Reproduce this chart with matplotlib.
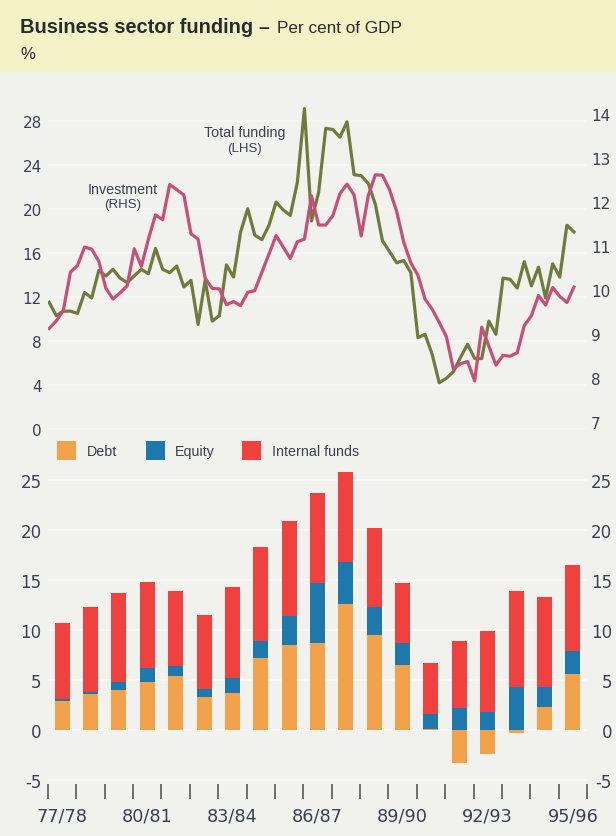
import numpy as np
import matplotlib.pyplot as plt
from matplotlib.patches import Rectangle

plt.rcParams['axes.unicode_minus'] = False

# financial years for the bar panel
years = ['77/78', '78/79', '79/80', '80/81', '81/82', '82/83', '83/84', '84/85',
         '85/86', '86/87', '87/88', '88/89', '89/90', '90/91', '91/92', '92/93',
         '93/94', '94/95', '95/96']
debt = [2.9, 3.6, 4.0, 4.8, 5.4, 3.3, 3.7, 7.2, 8.5, 8.7, 12.6, 9.5, 6.5, 0.1,
        -3.3, -2.4, -0.3, 2.3, 5.6]
equity = [0.2, 0.2, 0.8, 1.4, 1.0, 0.8, 1.5, 1.7, 2.9, 6.0, 4.2, 2.8, 2.2, 1.5,
          2.2, 1.8, 4.3, 2.0, 2.3]
internal = [7.6, 8.5, 8.9, 8.6, 7.5, 7.4, 9.1, 9.4, 9.5, 9.0, 9.0, 7.9, 6.0, 5.1,
            6.7, 8.1, 9.6, 9.0, 8.6]

# quarterly series, Sep 1977 onwards
total_funding = [11.5, 10.3, 10.7, 10.7, 10.5, 12.4, 11.9, 14.4, 13.9, 14.5,
                 13.7, 13.3, 13.9, 14.5, 14.1, 16.4, 14.5, 14.2, 14.8, 12.9,
                 13.5, 9.5, 13.5, 9.8, 10.3, 14.9, 13.8, 17.9, 20.0, 17.6,
                 17.2, 18.5, 20.6, 19.9, 19.4, 22.4, 29.1, 18.9, 21.5, 27.3,
                 27.2, 26.5, 27.9, 23.1, 23.0, 22.3, 20.4, 17.1, 16.1, 15.1,
                 15.3, 14.2, 8.3, 8.6, 6.8, 4.2, 4.6, 5.2, 6.5, 7.7,
                 6.4, 6.4, 9.8, 8.6, 13.7, 13.6, 12.8, 15.2, 13.0, 14.7,
                 11.9, 15.0, 13.8, 18.5, 17.9]
investment = [9.13, 9.30, 9.54, 10.41, 10.56, 10.98, 10.93, 10.66, 10.04, 9.80,
              9.94, 10.10, 10.94, 10.54, 11.16, 11.71, 11.60, 12.40, 12.28, 12.16,
              11.28, 11.16, 10.27, 10.04, 10.03, 9.67, 9.74, 9.65, 9.95, 9.99,
              10.41, 10.82, 11.24, 10.98, 10.72, 11.10, 11.16, 12.14, 11.48, 11.48,
              11.69, 12.19, 12.41, 12.16, 11.23, 12.15, 12.62, 12.61, 12.28, 11.79,
              11.09, 10.62, 10.34, 9.80, 9.57, 9.27, 8.95, 8.21, 8.33, 8.38,
              7.94, 9.16, 8.73, 8.30, 8.52, 8.50, 8.58, 9.20, 9.42, 9.88,
              9.66, 10.06, 9.86, 9.72, 10.07]

c_debt = '#f2a24a'
c_equity = '#1d78ad'
c_internal = '#f1413f'
c_total = '#6f7a3b'
c_invest = '#c64f78'
c_text = '#3b4052'
sans = 'Liberation Sans'

W, H = 616, 837
fig = plt.figure(figsize=(W / 100, H / 100), dpi=100)
fig.patch.set_facecolor('#f1f1ee')
fig.add_artist(Rectangle((0, 1 - 73 / H), 1, 73 / H, transform=fig.transFigure,
                         facecolor='#f3f1c6', edgecolor='none', zorder=0))

t1 = fig.text(20 / W, 1 - 33 / H, 'Business sector funding', family=sans,
              weight='bold', fontsize=14.4, color='#2b2b2b', va='baseline')
fig.canvas.draw()
bb = t1.get_window_extent()
fig.text((bb.x1 + 5) / W, 1 - 33 / H, '\u2013', family=sans, weight='bold',
         fontsize=14, color='#2b2b2b', va='baseline')
fig.text((bb.x1 + 24) / W, 1 - 33 / H, 'Per cent of GDP', family=sans,
         fontsize=12.3, color='#2b2b2b', va='baseline')
fig.text(20 / W, 1 - 59 / H, '%', family=sans, fontsize=12, color='#2b2b2b',
         va='baseline')

# ---- top panel: lines
ax1 = fig.add_axes([48 / W, (H - 430) / H, 539 / W, 330 / H])
ax1.set_facecolor('none')
xq = 0.04 + 0.25 * np.arange(len(total_funding))
ax1.plot(xq, total_funding, color=c_total, lw=2.3, zorder=3)
ax1.set_xlim(0, 19)
ax1.set_ylim(0, 29.97)
ax1.set_yticks(range(0, 29, 4))
ax1.set_xticks([])
ax1.grid(axis='y', color='white', lw=1.2, alpha=0.5)
ax1.tick_params(axis='y', length=0, pad=4.5, labelsize=11, labelcolor=c_text)

ax1r = ax1.twinx()
ax1r.set_ylim(0 / 4 + 6.848, 29.97 / 4 + 6.848)
ax1r.plot(xq, investment, color=c_invest, lw=2.3, zorder=2)
ax1r.set_yticks(range(7, 15))
ax1r.tick_params(axis='y', length=0, pad=3, labelsize=11, labelcolor=c_text)
for a in (ax1, ax1r):
    for s in a.spines.values():
        s.set_visible(False)

ax1.text(2.64, 21.8, 'Investment', ha='center', va='center', fontsize=10.3,
         family=sans, color=c_text)
ax1.text(2.64, 20.4, '(RHS)', ha='center', va='center', fontsize=9.5,
         family=sans, color=c_text)
ax1.text(6.94, 27.0, 'Total funding', ha='center', va='center', fontsize=10.3,
         family=sans, color=c_text)
ax1.text(6.94, 25.5, '(LHS)', ha='center', va='center', fontsize=9.5,
         family=sans, color=c_text)

# ---- bottom panel: stacked bars
ax2 = fig.add_axes([48 / W, (H - 785) / H, 539 / W, 319 / H])
ax2.set_facecolor('none')
xb = np.arange(len(years)) + 0.5
deb = np.array(debt)
base = np.clip(deb, 0, None)
eq = np.array(equity)
ax2.bar(xb, deb, width=0.53, color=c_debt, zorder=3)
ax2.bar(xb, eq, width=0.53, bottom=base, color=c_equity, zorder=3)
ax2.bar(xb, internal, width=0.53, bottom=base + eq, color=c_internal, zorder=3)
ax2.set_xlim(0, 19)
ax2.set_ylim(-5.4, 26.5)
ax2.set_yticks(range(-5, 26, 5))
ax2.grid(axis='y', color='white', lw=1.2, alpha=0.5)
ax2.tick_params(axis='y', length=0, pad=4.5, labelsize=12, labelcolor=c_text)
ax2.set_xticks(range(0, 20))
ax2.set_xticklabels([])
ax2.tick_params(axis='x', which='major', direction='out', length=11, width=1.1,
                color='#4a4a4a')
ax2.set_xticks(xb[::3], minor=True)
ax2.set_xticklabels(years[::3], minor=True)
ax2.tick_params(axis='x', which='minor', length=0, pad=16.5, labelsize=12.7,
                labelcolor=c_text)

ax2r = ax2.twinx()
ax2r.set_ylim(ax2.get_ylim())
ax2r.set_yticks(range(-5, 26, 5))
ax2r.tick_params(axis='y', length=0, pad=18, labelsize=12, labelcolor=c_text)
for lab in ax2r.get_yticklabels():
    lab.set_horizontalalignment('right')
for a in (ax2, ax2r):
    for s in a.spines.values():
        s.set_visible(False)

# legend drawn by hand above the bars
for label, col, xs, xt in [('Debt', c_debt, 57, 87), ('Equity', c_equity, 146, 175),
                           ('Internal funds', c_internal, 242, 272)]:
    fig.add_artist(Rectangle((xs / W, (H - 461) / H), 19 / W, 19 / H,
                             transform=fig.transFigure, facecolor=col, edgecolor='none'))
    fig.text(xt / W, (H - 452) / H, label, family=sans, fontsize=10.3,
             color=c_text, va='center')

fig.savefig('out.png', dpi=100, facecolor=fig.get_facecolor())
